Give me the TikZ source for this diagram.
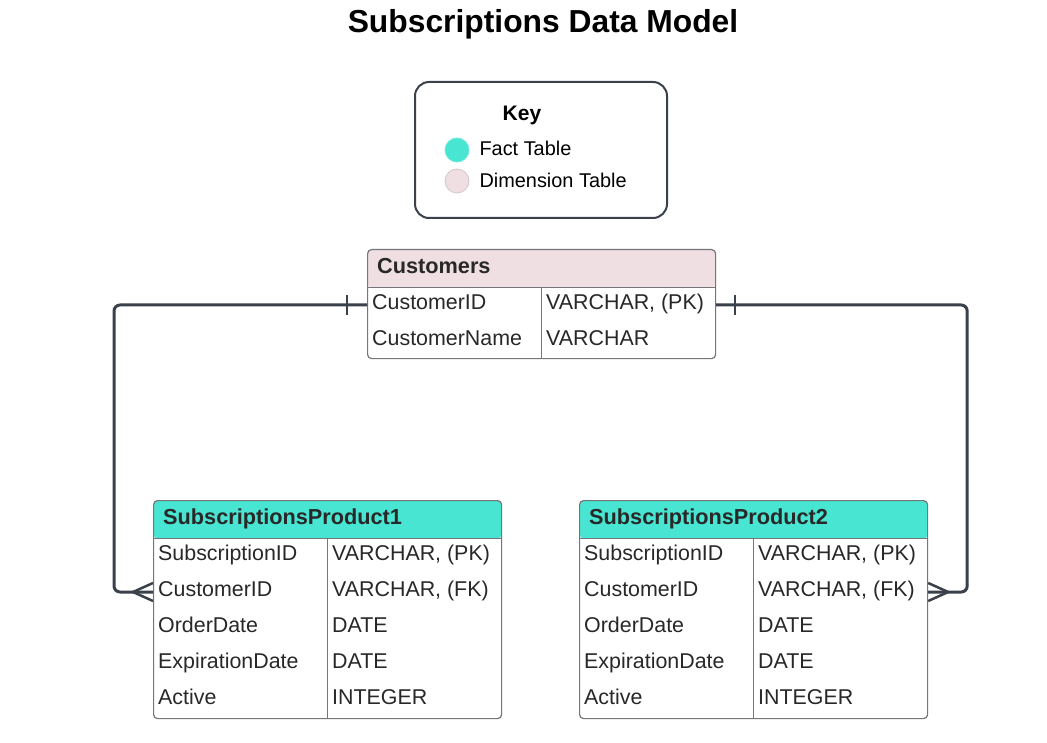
\documentclass[tikz,border=0pt]{standalone}
\usepackage{fontspec}
\setmainfont{Liberation Sans}
\usetikzlibrary{positioning}
\definecolor{factcol}{RGB}{72,229,210}
\definecolor{dimcol}{RGB}{240,223,226}
\definecolor{linecol}{RGB}{58,65,74}
\definecolor{gridcol}{RGB}{118,118,122}
\definecolor{inkcol}{RGB}{40,40,40}

\begin{document}
\begin{tikzpicture}[x=1pt,y=-1pt,
    tbl/.style 2 args={draw=gridcol, line width=1.2pt, rounded corners=4pt,
      minimum width=348pt, minimum height=#2, inner sep=0pt, anchor=north west,
      path picture={
        \fill[#1] (path picture bounding box.north west) rectangle
              ([yshift=-38pt]path picture bounding box.north east);
        \draw[gridcol, line width=1.2pt]
              ([yshift=-38pt]path picture bounding box.north west) --
              ([yshift=-38pt]path picture bounding box.north east)
              ([xshift=174pt,yshift=-38pt]path picture bounding box.north west) --
              ([xshift=174pt]path picture bounding box.south west);}},
    cell/.style={anchor=base west, inner sep=0pt, text=inkcol,
      font=\fontsize{21.4}{24}\selectfont},
    head/.style={cell, font=\fontsize{21.7}{24}\selectfont\bfseries},
    link/.style={draw=linecol, line width=3pt, rounded corners=6pt},
    endmark/.style={draw=linecol, line width=2.5pt},
    dot/.style={circle, minimum size=24pt, inner sep=0pt, line width=0.8pt}]

  \useasboundingbox[fill=white] (0,0) rectangle (1047,743);

  \node[font=\fontsize{31.8}{36}\selectfont\bfseries] (title) at (543,24) {Subscriptions Data Model};

  % key
  \node[draw=linecol, line width=2pt, rounded corners=14pt, minimum width=252pt,
        minimum height=136pt, anchor=north west] (key) at (414,81) {};
  \node[font=\fontsize{21}{24}\selectfont\bfseries] (keytitle) at (522,115) {Key};
  \node[dot, fill=factcol, draw=factcol!80!white] (factdot) at (457,150) {};
  \node[dot, fill=dimcol, draw=dimcol!75!gray] (dimdot) at (457,181) {};
  \node[anchor=west, font=\fontsize{19.9}{22}\selectfont] (facttext) at (476,148) {Fact Table};
  \node[anchor=west, font=\fontsize{19.9}{22}\selectfont] (dimtext) at (476,180) {Dimension Table};

  % tables
  \node[tbl={dimcol}{109pt}] (cust) at (367,249) {};
  \node[head] (cust-h) at ([xshift=10pt,yshift=-24.5pt]cust.north west) {Customers};
  \foreach \f/\t [count=\i] in {CustomerID/{VARCHAR, (PK)}, CustomerName/VARCHAR}{
    \node[cell] (cust-f\i) at ([xshift=5pt,yshift={-(24.8+36*\i)*1pt}]cust.north west) {\f};
    \node[cell] (cust-t\i) at ([xshift=179pt,yshift={-(24.8+36*\i)*1pt}]cust.north west) {\t};
  }

  \node[tbl={factcol}{218pt}] (sp1) at (153,500) {};
  \node[head] (sp1-h) at ([xshift=10pt,yshift=-24.5pt]sp1.north west) {SubscriptionsProduct1};
  \node[tbl={factcol}{218pt}] (sp2) at (579,500) {};
  \node[head] (sp2-h) at ([xshift=10pt,yshift=-24.5pt]sp2.north west) {SubscriptionsProduct2};
  \foreach \s in {sp1,sp2}{
    \foreach \f/\t [count=\i] in {SubscriptionID/{VARCHAR, (PK)}, CustomerID/{VARCHAR, (FK)},
        OrderDate/DATE, ExpirationDate/DATE, Active/INTEGER}{
      \node[cell] (\s-f\i) at ([xshift=5pt,yshift={-(24.8+36*\i)*1pt}]\s.north west) {\f};
      \node[cell] (\s-t\i) at ([xshift=179pt,yshift={-(24.8+36*\i)*1pt}]\s.north west) {\t};
    }
  }

  % links
  \draw[link] ([yshift=-56pt]cust.north west) -- ++(-253,0) |- ([yshift=-92pt]sp1.north west);
  \draw[link] ([yshift=-56pt]cust.north east) -- ++(251,0) |- ([yshift=-92pt]sp2.north east);
  \draw[endmark] ([xshift=-20pt,yshift=-46pt]cust.north west) -- ++(0,20);
  \draw[endmark] ([xshift=19pt,yshift=-46pt]cust.north east) -- ++(0,20);
  \draw[endmark] ([yshift=-83pt]sp1.north west) -- ++(-20,9) -- ([yshift=-101pt]sp1.north west);
  \draw[endmark] ([yshift=-83pt]sp2.north east) -- ++(20,9) -- ([yshift=-101pt]sp2.north east);
\end{tikzpicture}
\end{document}
